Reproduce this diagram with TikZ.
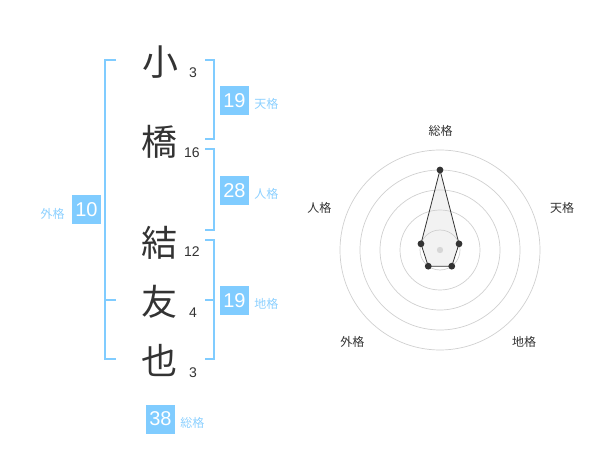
\documentclass[tikz,border=0pt]{standalone}
\usepackage{fontspec}
\setmainfont{Liberation Sans}
\newfontfamily\cjk{Noto Sans CJK JP}
\usepackage{tikz}
\usetikzlibrary{positioning}
\definecolor{kakublue}{RGB}{128, 204, 255}
\definecolor{labelblue}{RGB}{140, 208, 255}
\definecolor{chartext}{RGB}{51, 51, 51}
\definecolor{ringgray}{RGB}{208, 208, 208}

\tikzset{
  kanji/.style={font=\cjk\fontsize{36}{36}\selectfont, text=chartext, inner sep=0pt},
  strokes/.style={font=\fontsize{14}{14}\selectfont, text=chartext, inner sep=0pt},
  kakubox/.style={fill=kakublue, text=white, font=\fontsize{20}{20}\selectfont, minimum size=29pt, inner sep=0pt},
  kakulabel/.style={font=\cjk\fontsize{12}{12}\selectfont, text=labelblue, inner sep=0pt},
  bracket/.style={kakublue, line width=2pt},
  ring/.style={ringgray, line width=0.7pt},
  radarlabel/.style={font=\cjk\fontsize{12}{12}\selectfont, text=chartext, inner sep=0pt},
  radardot/.style={fill=chartext},
}

\begin{document}
\begin{tikzpicture}[x=1pt,y=-1pt]
\useasboundingbox (0,0) rectangle (600,470);
% name characters and stroke counts
\node[kanji] (c1) at (160,62) {小};
\node[kanji] (c2) at (159.5,142) {橋};
\node[kanji] (c3) at (159.5,243) {結};
\node[kanji] (c4) at (159.5,302) {友};
\node[kanji] (c5) at (159.5,360) {也};
\node[strokes] (n1) at (193,73) {3};
\node[strokes] (n2) at (192,153) {16};
\node[strokes] (n3) at (192,252) {12};
\node[strokes] (n4) at (193,313) {4};
\node[strokes] (n5) at (193,373) {3};
% brackets
\draw[bracket] (116,60) -- (105,60) -- (105,359.5) -- (116,359.5);
\draw[bracket] (105,300) -- (116,300);
\draw[bracket] (205,60) -- (214,60) -- (214,139.5) -- (205,139.5);
\draw[bracket] (205,149.5) -- (214,149.5) -- (214,230) -- (205,230);
\draw[bracket] (205,240) -- (214,240) -- (214,359.5) -- (205,359.5);
\draw[bracket] (205,300) -- (214,300);
% kaku values
\node[kakubox] (ten) at (234.5,100.5) {19};
\node[kakulabel, right=5pt of ten, yshift=-3.5pt] (tenl) {天格};
\node[kakubox] (jin) at (234.5,190.5) {28};
\node[kakulabel, right=5pt of jin, yshift=-3.5pt] (jinl) {人格};
\node[kakubox] (chi) at (234.5,300.5) {19};
\node[kakulabel, right=5pt of chi, yshift=-3.5pt] (chil) {地格};
\node[kakubox] (gai) at (86.5,210) {10};
\node[kakulabel, left=7pt of gai, yshift=-3.5pt] (gail) {外格};
\node[kakubox] (sou) at (160.5,419) {38};
\node[kakulabel, right=5pt of sou, yshift=-3.5pt] (soul) {総格};
% radar chart
\begin{scope}[shift={(440,250)}, yscale=-1]
\foreach \r in {20,40,60,80,100}
  \draw[ring] (0,0) circle[radius=\r];
\fill[ringgray!80] (0,0) circle[radius=3.2];
\coordinate (p1) at (90:80);
\coordinate (p2) at (18:20);
\coordinate (p3) at (-54:20);
\coordinate (p4) at (-126:20);
\coordinate (p5) at (162:20);
\draw[chartext, fill=gray!40, fill opacity=0.25, line width=0.8pt] (p1) -- (p2) -- (p3) -- (p4) -- (p5) -- cycle;
\foreach \p in {p1,p2,p3,p4,p5}
  \fill[radardot] (\p) circle[radius=3.4];
\end{scope}
\node[radarlabel] (rsou) at (440.7,130.7) {総格};
\node[radarlabel] (rten) at (562,208) {天格};
\node[radarlabel] (rchi) at (524,341.7) {地格};
\node[radarlabel] (rgai) at (352.3,341.7) {外格};
\node[radarlabel] (rjin) at (319.3,208) {人格};
\end{tikzpicture}
\end{document}
